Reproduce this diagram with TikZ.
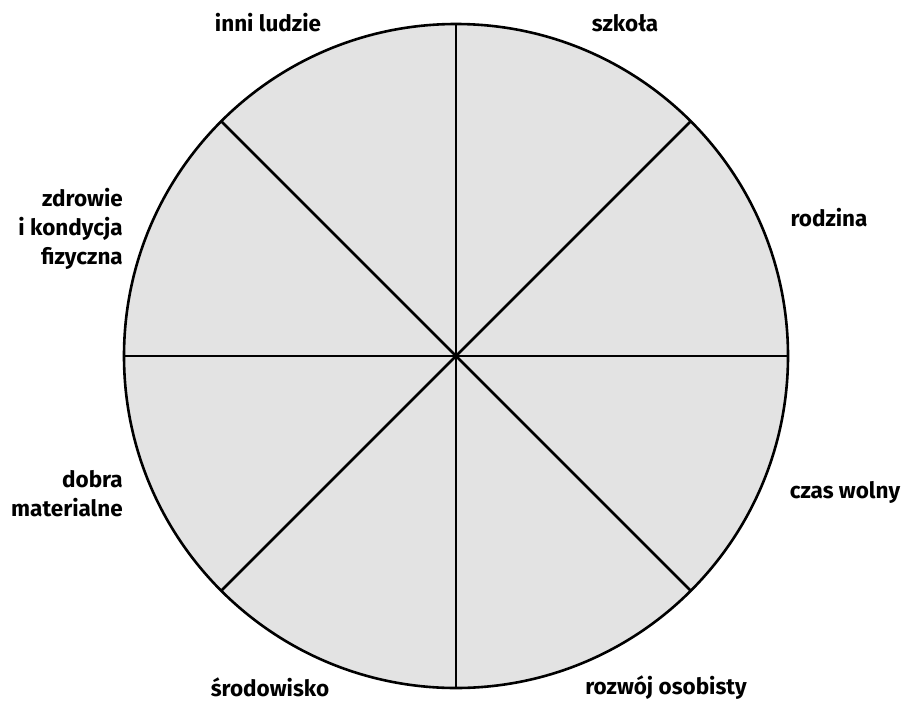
\documentclass[tikz,border=0pt]{standalone}
\usepackage{fontspec}
\setmainfont{Fira Sans}
\begin{document}
\begin{tikzpicture}[x=1pt,y=-1pt,
  lbl/.style={font=\fontsize{22.5}{29}\selectfont\bfseries, inner sep=0pt},
  spoke/.style={line width=2.6pt}]
\useasboundingbox (0,0) rectangle (904,702);
\definecolor{wheel}{HTML}{E3E3E3}
\coordinate (c) at (456,356);
\fill[wheel] (c) circle[radius=332];
\foreach \a in {0,45,...,315} \draw[spoke] (c) -- ++(\a:332);
\draw[spoke] (c) circle[radius=332];
\node[lbl] (inni) at (268,23) {inni ludzie};
\node[lbl] (szk) at (625,23) {szkoła};
\node[lbl] (rodz) at (829,218) {rodzina};
\node[lbl, align=right, anchor=east] (zdr) at (123,229) {zdrowie\\i kondycja\\fizyczna};
\node[lbl, align=right, anchor=east] (dob) at (123,494) {dobra\\materialne};
\node[lbl] (czas) at (845,492) {czas wolny};
\node[lbl] (srod) at (270,687) {środowisko};
\node[lbl] (rozw) at (666,688) {rozwój osobisty};
\end{tikzpicture}
\end{document}
